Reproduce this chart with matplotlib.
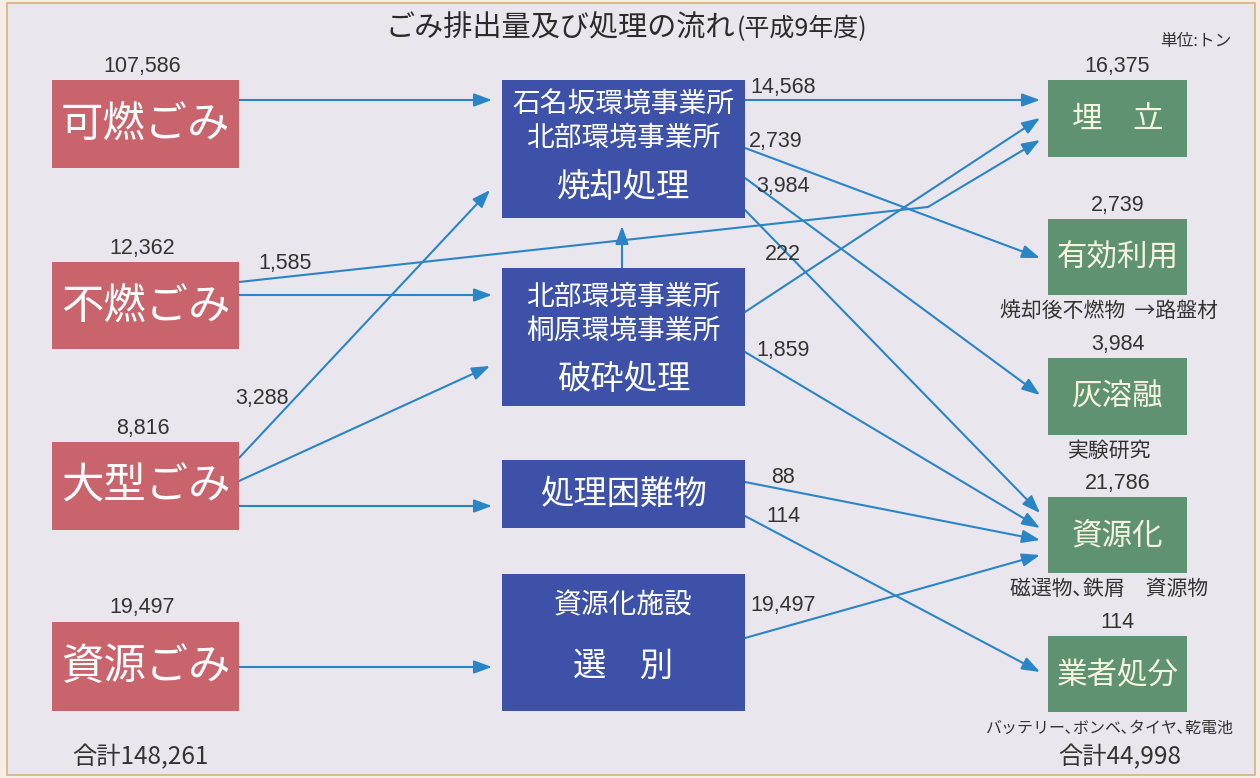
import matplotlib
matplotlib.use("Agg")
import matplotlib.pyplot as plt
from matplotlib.patches import Rectangle

plt.rcParams['font.family'] = ['Noto Sans CJK JP', 'DejaVu Sans']
NUMFONT = ['Liberation Sans', 'Noto Sans CJK JP']
JPFONT = ['Noto Sans CJK JP', 'DejaVu Sans']

# ---- data ----
source_names = ["可燃ごみ", "不燃ごみ", "大型ごみ", "資源ごみ"]
source_tons = [107586, 12362, 8816, 19497]
source_total = 148261

process_lines = [["石名坂環境事業所", "北部環境事業所", "焼却処理"],
                 ["北部環境事業所", "桐原環境事業所", "破砕処理"],
                 ["処理困難物"],
                 ["資源化施設", "選　別"]]

dest_names = ["埋　立", "有効利用", "灰溶融", "資源化", "業者処分"]
dest_tons = [16375, 2739, 3984, 21786, 114]
dest_notes = ["", "焼却後不燃物  →路盤材", "実験研究", "磁選物､鉄屑　資源物",
              "バッテリー､ボンベ､タイヤ､乾電池"]
dest_total = 44998

# flows: (from, to, tons or None when unlabeled)
flow_from = ["可燃ごみ", "不燃ごみ", "不燃ごみ", "大型ごみ", "大型ごみ", "大型ごみ", "資源ごみ",
             "破砕処理", "焼却処理", "焼却処理", "焼却処理", "焼却処理",
             "破砕処理", "破砕処理", "処理困難物", "処理困難物", "資源化施設"]
flow_to = ["焼却処理", "破砕処理", "埋　立", "焼却処理", "破砕処理", "処理困難物", "資源化施設",
           "焼却処理", "埋　立", "有効利用", "灰溶融", "資源化",
           "埋　立", "資源化", "資源化", "業者処分", "資源化"]
flow_tons = [None, None, 1585, 3288, None, None, None,
             None, 14568, 2739, 3984, None,
             222, 1859, 88, 114, 19497]

# ---- layout (pixels) ----
src_box = [(52, 80, 239, 168), (52, 262, 239, 349), (52, 442, 239, 530), (52, 622, 239, 711)]
proc_box = [(502, 80, 745, 218), (502, 268, 745, 406), (502, 460, 745, 528), (502, 574, 745, 711)]
dest_box = [(1048, 80, 1187, 157), (1048, 219, 1187, 295), (1048, 358, 1187, 435),
            (1048, 497, 1187, 573), (1048, 636, 1187, 712)]
proc_text_y = [[104, 138, 187], [297, 331, 379], [494], [605, 666]]
proc_text_size = [[20, 20, 24], [20, 20, 24], [24], [20, 24]]
note_size = [15, 15, 15, 15, 11.5]

flow_path = [[(239, 100), (492, 100)],
             [(239, 295), (492, 295)],
             [(239, 282), (928, 207), (1040, 140)],
             [(239, 458), (490, 190)],
             [(239, 481), (490, 366)],
             [(239, 506), (492, 506)],
             [(239, 667), (492, 667)],
             [(622, 268), (622, 226)],
             [(745, 100), (1040, 100)],
             [(745, 148), (1040, 258)],
             [(745, 178), (1040, 395)],
             [(745, 210), (1040, 513)],
             [(745, 312), (1040, 118)],
             [(745, 352), (1040, 528)],
             [(745, 482), (1040, 540)],
             [(745, 516), (1040, 672)],
             [(745, 638), (1040, 555)]]
flow_label_xy = [None, None, (285, 264), (262, 398), None, None, None,
                 None, (783, 87), (776, 141), (783, 186), None,
                 (783, 254), (783, 350), (783, 477), (783, 516), (783, 606)]

RED = '#c9646d'
BLUE = '#3d51a9'
GREEN = '#5f9270'
LINE = '#2a85c6'
TXT = '#333333'

fig = plt.figure(figsize=(12.6, 7.78), dpi=100, facecolor='#f4eee6')
ax = fig.add_axes([0, 0, 1, 1])
ax.set_xlim(0, 1260)
ax.set_ylim(778, 0)
ax.axis('off')

ax.add_patch(Rectangle((7, 3), 1248, 772, facecolor='#e9e6ee', edgecolor='#dcb07c', linewidth=1.2))

# title
ax.text(735, 28, "ごみ排出量及び処理の流れ", ha='right', va='center', fontsize=21,
        family=JPFONT, color='#2b2b2b')
ax.text(737, 29, "(平成9年度)", ha='left', va='center', fontsize=18, family=JPFONT, color='#2b2b2b')
ax.text(1196, 41, "単位:トン", ha='center', va='center', fontsize=12, family=JPFONT, color=TXT)


def box(b, color):
    x0, y0, x1, y1 = b
    ax.add_patch(Rectangle((x0, y0), x1 - x0, y1 - y0, facecolor=color, edgecolor='none', zorder=3))


# sources
for i, name in enumerate(source_names):
    x0, y0, x1, y1 = src_box[i]
    box(src_box[i], RED)
    ax.text((x0 + x1) / 2, (y0 + y1) / 2 + 1, name, ha='center', va='center', fontsize=30.5,
            color='white', family=JPFONT, zorder=4)
    ax.text((x0 + x1) / 2 - 3, y0 - 14, f"{source_tons[i]:,}", ha='center', va='center',
            fontsize=15.5, color=TXT, family=NUMFONT)
ax.text(140, 757, f"合計{source_total:,}", ha='center', va='center', fontsize=17.5, color=TXT, family=JPFONT)

# processes
for i, lines in enumerate(process_lines):
    x0, y0, x1, y1 = proc_box[i]
    box(proc_box[i], BLUE)
    for j, s in enumerate(lines):
        ax.text((x0 + x1) / 2, proc_text_y[i][j], s, ha='center', va='center',
                fontsize=proc_text_size[i][j], color='white', family=JPFONT, zorder=4)

# destinations
for i, name in enumerate(dest_names):
    x0, y0, x1, y1 = dest_box[i]
    box(dest_box[i], GREEN)
    ax.text((x0 + x1) / 2, (y0 + y1) / 2 + 1, name, ha='center', va='center', fontsize=22,
            color='#f6f3df', family=JPFONT, zorder=4)
    ax.text((x0 + x1) / 2, y0 - 14, f"{dest_tons[i]:,}", ha='center', va='center',
            fontsize=15.5, color=TXT, family=NUMFONT)
    if dest_notes[i]:
        ax.text((x0 + x1) / 2 - 8, y1 + 16, dest_notes[i], ha='center', va='center',
                fontsize=note_size[i], color=TXT, family=JPFONT)
ax.text(1120, 757, f"合計{dest_total:,}", ha='center', va='center', fontsize=17.5, color=TXT, family=JPFONT)

# flows
for k in range(len(flow_from)):
    pts = flow_path[k]
    if len(pts) > 2:
        xs = [p[0] for p in pts[:-1]]
        ys = [p[1] for p in pts[:-1]]
        ax.plot(xs, ys, color=LINE, lw=1.5, zorder=2, solid_capstyle='butt')
    ax.annotate("", xy=pts[-1], xytext=pts[-2],
                arrowprops=dict(arrowstyle='-|>,head_length=0.6,head_width=0.22',
                                mutation_scale=18, color=LINE, lw=1.5,
                                shrinkA=0, shrinkB=0), zorder=2)
    if flow_tons[k] is not None:
        ax.text(flow_label_xy[k][0], flow_label_xy[k][1], f"{flow_tons[k]:,}", ha='center',
                va='center', fontsize=15.5, color=TXT, family=NUMFONT, zorder=5)

fig.savefig("out.png", dpi=100, facecolor=fig.get_facecolor())
